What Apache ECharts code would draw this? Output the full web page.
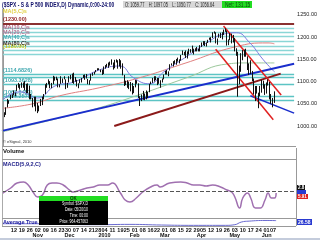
<!DOCTYPE html>
<html><head><meta charset="utf-8">
<script src="https://cdn.jsdelivr.net/npm/echarts@6/dist/echarts.min.js"></script>
<style>html,body{margin:0;padding:0;background:#fff}#c{width:320px;height:240px}</style>
</head><body><div id="c"></div>
<script>
// [day, open, high, low, close]
const oct09 = [[1,1054,1054,1029,1029],[2,1029,1031,1020,1025],[5,1026,1042,1025,1040],[6,1042,1061,1042,1054],[7,1053,1058,1050,1057],[8,1060,1070,1060,1065],[9,1065,1071,1063,1071],[12,1071,1080,1069,1076],[13,1074,1075,1067,1073],[14,1079,1093,1079,1092],[15,1090,1097,1086,1096],[16,1094,1094,1082,1087],[19,1088,1098,1086,1097],[20,1098,1098,1086,1091],[21,1091,1101,1080,1081],[22,1080,1095,1074,1092],[23,1095,1096,1074,1079],[26,1080,1091,1060,1066],[27,1067,1072,1060,1063],[28,1062,1063,1042,1042],[29,1044,1066,1044,1066],[30,1065,1066,1033,1036]];
const nov09 = [[2,1036,1052,1029,1042],[3,1040,1046,1033,1045],[4,1047,1061,1045,1046],[5,1047,1066,1047,1066],[6,1064,1072,1060,1069],[9,1072,1094,1072,1093],[10,1092,1097,1086,1093],[11,1094,1105,1094,1098],[12,1098,1101,1085,1087],[13,1088,1097,1085,1093],[16,1094,1113,1094,1109],[17,1108,1111,1102,1110],[18,1109,1111,1103,1109],[19,1107,1107,1087,1094],[20,1094,1094,1087,1091],[23,1095,1112,1095,1106],[24,1106,1107,1097,1105],[25,1106,1112,1105,1110],[27,1105,1105,1083,1091],[30,1091,1097,1086,1096]];
const dec09 = [[1,1098,1112,1098,1109],[2,1109,1115,1105,1109],[3,1110,1118,1097,1099],[4,1101,1120,1095,1105],[7,1105,1110,1100,1104],[8,1103,1104,1089,1091],[9,1092,1096,1085,1095],[10,1096,1105,1096,1102],[11,1103,1108,1098,1106],[14,1108,1115,1108,1114],[15,1114,1116,1104,1107],[16,1108,1117,1107,1109],[17,1106,1106,1094,1096],[18,1097,1103,1093,1102],[21,1102,1117,1102,1114],[22,1115,1120,1113,1118],[23,1118,1122,1116,1120],[24,1121,1126,1121,1126],[28,1127,1130,1125,1127],[29,1128,1130,1126,1126],[30,1125,1127,1121,1126],[31,1126,1127,1115,1115]];
const jan10 = [[4,1117,1134,1117,1133],[5,1133,1137,1129,1136],[6,1136,1140,1133,1137],[7,1136,1143,1131,1141],[8,1140,1145,1136,1145],[11,1146,1150,1138,1146],[12,1143,1143,1127,1136],[13,1137,1149,1130,1145],[14,1145,1150,1143,1148],[15,1147,1148,1129,1136],[19,1136,1151,1134,1150],[20,1148,1148,1129,1138],[21,1138,1141,1114,1116],[22,1115,1115,1090,1091],[25,1092,1102,1092,1096],[26,1096,1103,1086,1092],[27,1092,1100,1083,1097],[28,1097,1099,1078,1084],[29,1088,1097,1071,1074]];
const feb10 = [[1,1074,1090,1074,1090],[2,1090,1104,1087,1103],[3,1101,1103,1095,1097],[4,1096,1096,1063,1063],[5,1064,1067,1045,1066],[8,1066,1071,1056,1056],[9,1061,1079,1059,1070],[10,1069,1073,1058,1068],[11,1067,1080,1060,1078],[12,1075,1077,1063,1075],[16,1076,1095,1076,1094],[17,1096,1100,1094,1099],[18,1099,1108,1097,1106],[19,1105,1112,1100,1109],[22,1110,1112,1103,1108],[23,1107,1108,1092,1095],[24,1095,1108,1095,1105],[25,1101,1103,1086,1102],[26,1103,1107,1098,1105]];
const mar10 = [[1,1105,1116,1105,1116],[2,1117,1124,1116,1118],[3,1119,1126,1116,1119],[4,1119,1123,1112,1123],[5,1126,1139,1125,1139],[8,1139,1141,1136,1139],[9,1137,1146,1134,1141],[10,1141,1148,1140,1146],[11,1143,1151,1138,1151],[12,1152,1154,1145,1150],[15,1148,1150,1141,1150],[16,1150,1160,1147,1160],[17,1160,1170,1160,1166],[18,1166,1167,1159,1166],[19,1166,1170,1153,1160],[22,1155,1168,1152,1166],[23,1166,1174,1161,1174],[24,1172,1173,1165,1167],[25,1170,1181,1165,1165],[26,1167,1174,1161,1167],[29,1168,1175,1168,1174],[30,1174,1178,1168,1174],[31,1172,1174,1168,1169]];
const apr10 = [[1,1171,1182,1168,1178],[5,1179,1188,1178,1187],[6,1186,1191,1182,1189],[7,1189,1191,1180,1183],[8,1181,1188,1179,1187],[9,1187,1194,1187,1194],[12,1194,1199,1194,1197],[13,1196,1200,1188,1197],[14,1198,1211,1198,1211],[15,1211,1213,1208,1211],[16,1210,1211,1186,1192],[19,1192,1197,1183,1197],[20,1199,1208,1199,1207],[21,1207,1210,1198,1205],[22,1202,1211,1195,1208],[23,1207,1217,1205,1217],[26,1217,1220,1212,1213],[27,1212,1215,1181,1183],[28,1184,1195,1182,1191],[29,1193,1209,1193,1206],[30,1206,1208,1186,1187]];
const may10 = [[3,1188,1205,1188,1202],[4,1198,1198,1168,1173],[5,1169,1175,1158,1166],[6,1164,1167,1066,1128],[7,1127,1136,1094,1111],[10,1122,1164,1122,1160],[11,1157,1171,1148,1155],[12,1156,1172,1156,1171],[13,1171,1174,1156,1158],[14,1157,1157,1126,1136],[17,1137,1141,1115,1136],[18,1139,1148,1117,1121],[19,1119,1124,1101,1116],[20,1107,1107,1071,1071],[21,1068,1090,1056,1088],[24,1084,1090,1073,1074],[25,1068,1075,1040,1074],[26,1075,1090,1067,1068],[27,1075,1104,1075,1103],[28,1102,1102,1084,1089]];
const jun10 = [[1,1088,1094,1070,1070],[2,1073,1098,1073,1098],[3,1098,1105,1091,1102],[4,1099,1099,1060,1065],[7,1065,1072,1050,1050],[8,1051,1063,1042,1062],[9,1060,1078,1052,1056]];

// Moving averages: [bar index, value]
const maBlue  = [[0,1059],[11,1077],[22,1063],[33,1090],[45,1099],[61,1126],[74,1135],[83,1108],[93,1095],[102,1122],[118,1160],[130,1189],[140,1207],[148,1210],[156,1189],[165,1149],[172,1122]];
const maRed   = [[0,1040],[19,1050],[36,1068],[61,1086],[86,1108],[116,1142],[147,1178],[168,1187],[172,1185]];
const maGreen = [[0,987],[36,1018],[61,1041],[86,1070],[116,1108],[143,1140],[154,1142],[172,1142]];

// Drawn trendlines: [bar index, price]
const blueLine1 = [[-0.5,989],[184.5,1140]];
const blueLine2 = [[156.8,1068],[184.5,1029]];
const brownLine = [[70.6,1000],[176,1118]];
const redLine1  = [[139.8,1225],[176.3,1070]];
const redLine2  = [[134.8,1173],[171.3,1014]];

// Horizontal levels
const levelValues = [1230,1221,1211,1202,1191,1180,1171,1162,1116,1110,1094,1067,1057];
const levelLabels = ['(1230.00)','','','','','','(1180.00)','','(1114.6826)','','(1093.3628)','(1068.8453)','(1059.2578)'];

// MACD(5,9,2): [bar index, value]
const macd = [[0,-2],[5,3],[9,8],[13,9],[16,6],[19,-1],[22,-6],[25,-4],[28,6],[31,8],[34,8],[38,6],[42,1],[44,-1],[49,1],[53,3],[57,4],[61,6],[66,6],[69,8],[74,-2],[77,-9],[80,-11],[84,-7],[88,-1],[93,4],[97,6],[99,4],[105,8],[112,9],[116,8],[120,6],[124,6],[128,5],[132,6],[137,4],[141,1],[144,-1],[146,-6],[149,-17],[151,-7],[154,-2],[156,-7],[159,-17],[162,-17],[165,-9],[167,-2],[169,-7],[171,-7],[172,-2]];
// Average True Range
const atr = [[0,17],[20,17],[40,15],[60,14],[80,15],[100,13],[120,12],[140,12],[146,14],[150,22],[155,25],[165,27],[172,26.6]];

const weekTicks = ['2009-10-12','2009-10-19','2009-10-26','2009-11-02','2009-11-09','2009-11-16','2009-11-23','2009-11-30','2009-12-07','2009-12-14','2009-12-21','2009-12-28','2010-01-04','2010-01-11','2010-01-19','2010-01-25','2010-02-01','2010-02-08','2010-02-16','2010-02-22','2010-03-01','2010-03-08','2010-03-15','2010-03-22','2010-03-29','2010-04-05','2010-04-12','2010-04-19','2010-04-26','2010-05-03','2010-05-10','2010-05-17','2010-05-24','2010-06-01','2010-06-07'];
const monthTicks = {'2009-11-02':'Nov','2009-12-01':'Dec','2010-01-04':'2010','2010-02-01':'Feb','2010-03-01':'Mar','2010-04-01':'Apr','2010-05-03':'May','2010-06-01':'Jun'};

const months = [['2009-10',oct09],['2009-11',nov09],['2009-12',dec09],['2010-01',jan10],['2010-02',feb10],['2010-03',mar10],['2010-04',apr10],['2010-05',may10],['2010-06',jun10]];
const categories = [], ohlc = [];
months.forEach(([m, rows]) => rows.forEach(r => {
  categories.push(m + '-' + String(r[0]).padStart(2,'0'));
  ohlc.push([r[1], r[4], r[3], r[2]]);
}));
for (let i = 1; i <= 12; i++) categories.push('f' + i);
const N = categories.length;
const weekSet = new Set(weekTicks);

const F = 'Liberation Sans, Arial, sans-serif';
const chart = echarts.init(document.getElementById('c'), null, {renderer:'canvas'});

const lvlData = levelValues.map((v, i) => ({
  yAxis: v,
  lineStyle: i === 0 ? {color:'#8b3030', width:2, type:'solid'} : {color: i < 8 ? '#8ad6d6' : '#5cc4c4', width:1.3, type:'solid'},
  label: {show: !!levelLabels[i], formatter: levelLabels[i], position:'insideStartTop', distance:[1,1], fontSize:5.5, fontWeight:'bold', fontFamily:F,
    color: i === 0 ? '#8b1a1a' : (levelLabels[i] === '(1180.00)' ? '#c8c820' : '#40a8b0')}
}));

const lineS = (data, color, width, xi, yi, smooth) => ({type:'line', data, xAxisIndex:xi, yAxisIndex:yi, showSymbol:false, symbol:'none', smooth: !!smooth, lineStyle:{color, width}, silent:true, z:3});

const txt = (x, y, text, color, size, bold, sx) => ({type:'text', x, y, scaleX: sx || 1, z:100, style:{text, fill:color, font:(bold?'bold ':'') + size + 'px ' + F}});

const labelAxis = (extra) => Object.assign({type:'category', gridIndex:2, data:categories, position:'bottom', axisLine:{show:false}, axisTick:{show:false}}, extra);

chart.setOption({
  animation:false,
  backgroundColor:'#ffffff',
  grid:[
    {left:2, right:24, top:8.3, height:139.9},
    {left:2, right:24, top:160, height:58},
    {left:2, right:24, top:219.5, height:6.5}
  ],
  xAxis:[
    {type:'category', gridIndex:0, data:categories, show:false},
    {type:'value', gridIndex:0, min:-0.5, max:N-0.5, show:false},
    {type:'value', gridIndex:1, min:-0.5, max:N-0.5, show:false},
    {type:'value', gridIndex:2, min:-0.5, max:N-0.5, show:false},
    labelAxis({axisLabel:{interval:(i,v)=>weekSet.has(v), formatter:v=>v.slice(8), fontSize:5.5, margin:1, color:'#111', fontFamily:F, fontWeight:'bold'}}),
    labelAxis({offset:5.5, axisLabel:{interval:(i,v)=>v in monthTicks, formatter:v=>monthTicks[v]||'', fontSize:5.5, margin:1, color:'#111', fontFamily:F, fontWeight:'bold'}})
  ],
  yAxis:[
    {type:'value', gridIndex:0, position:'right', min:950, max:1265, interval:50, axisLine:{show:true, lineStyle:{color:'#999'}}, axisTick:{show:false}, splitLine:{show:false},
      axisLabel:{formatter:v=>(v>=1000 && v<=1250) ? v.toFixed(2) : '', fontSize:5.5, margin:3, color:'#222', fontFamily:F}},
    {type:'value', gridIndex:1, min:-27, max:31, show:false},
    {type:'value', gridIndex:2, min:10, max:30, show:false}
  ],
  series:[
    {type:'candlestick', xAxisIndex:0, yAxisIndex:0, data:ohlc, barWidth:1.2, z:4,
      itemStyle:{color:'#ffffff', color0:'#000000', borderColor:'#111', borderColor0:'#111', borderWidth:1},
      markLine:{silent:true, symbol:['none','none'], animation:false, data:lvlData, z:1}},
    lineS(maGreen,'#9cc89c',1,1,0,true),
    lineS(maRed,'#e08080',1,1,0,true),
    lineS(maBlue,'#7a7ae0',1,1,0,true),
    lineS(blueLine1,'#1a2ecc',2,1,0),
    lineS(blueLine2,'#1a2ecc',1.5,1,0),
    lineS(brownLine,'#8b1a1a',2,1,0),
    lineS(redLine1,'#e02020',1.5,1,0),
    lineS(redLine2,'#e02020',1.5,1,0),
    Object.assign(lineS(macd,'#a070b0',1.5,2,1,true), {markLine:{silent:true, symbol:['none','none'], data:[{yAxis:0}], lineStyle:{color:'#555', width:1, type:'dashed'}, label:{show:false}}}),
    lineS(atr,'#6a6ad0',1,3,2,true)
  ],
  graphic:[
    {type:'rect', shape:{x:0,y:238,width:320,height:2}, style:{fill:'#c4ccdc'}, z:0},
    {type:'line', shape:{x1:2.5,y1:9,x2:2.5,y2:226}, style:{stroke:'#aaa',lineWidth:1}, z:50},
    {type:'line', shape:{x1:296.5,y1:148,x2:296.5,y2:226}, style:{stroke:'#999',lineWidth:1}, z:50},
    {type:'line', shape:{x1:2,y1:146.5,x2:296,y2:146.5}, style:{stroke:'#999',lineWidth:1}, z:50},
    {type:'line', shape:{x1:2,y1:159.5,x2:296,y2:159.5}, style:{stroke:'#999',lineWidth:1}, z:50},
    {type:'line', shape:{x1:2,y1:218.5,x2:296,y2:218.5}, style:{stroke:'#999',lineWidth:1}, z:50},
    {type:'line', shape:{x1:2,y1:226.5,x2:296,y2:226.5}, style:{stroke:'#999',lineWidth:1}, z:50},
    {type:'rect', shape:{x:0,y:147,width:296,height:12}, style:{fill:'#ffffff'}, z:40},
    txt(2,1,'($SPX - S & P 500 INDEX,D) Dynamic,0:00-24:00','#10106a',8,true,0.62),
    {type:'rect', shape:{x:123,y:1,width:99,height:7}, style:{fill:'#d8d8d8'}, z:90},
    txt(125,1.5,'O: 1059.77    H: 1097.05    L: 1050.77    C: 1056.64','#222',7,false,0.56),
    {type:'rect', shape:{x:222,y:1,width:30,height:7}, style:{fill:'#22dd22'}, z:90},
    txt(225,1.5,'Net: 131.15','#114411',7,false,0.7),
    txt(3,8,'MA(5,C)s','#e0d040',5.5,true),
    txt(3,24,'MA(10,C)s','#b06080',5.5,true),
    txt(3,29,'MA(20,C)s','#b07090',5.5,true),
    txt(3,34,'MA(40,C)s','#40a8b0',5.5,true),
    txt(3,40,'MA(80,C)s','#303030',5.5,true),
    txt(3,140,'\u00a9 eSignal, 2010','#333',4,false),
    txt(3,148,'Volume','#111',6,true),
    txt(3,161,'MACD(5,9,2,C)','#20208a',5.5,true),
    txt(3,219.5,'Average True','#2020a0',5.5,true),
    {type:'rect', shape:{x:297,y:185,width:8,height:5}, style:{fill:'#111'}, z:90},
    txt(298,185.3,'2.8','#fff',4.5,true),
    {type:'rect', shape:{x:297,y:190,width:9,height:4}, style:{fill:'#2a3ad0'}, z:90},
    {type:'rect', shape:{x:297,y:194,width:11,height:5}, style:{fill:'#e02020'}, z:90},
    txt(298,194.3,'5.91','#fff',4.5,true),
    {type:'rect', shape:{x:297,y:219,width:15,height:6}, style:{fill:'#2a3ad0'}, z:90},
    txt(298,219.7,'26.58','#fff',5,true),
    {type:'rect', shape:{x:39,y:196,width:69,height:29}, style:{fill:'#000'}, z:95},
    {type:'rect', shape:{x:39,y:196,width:69,height:5}, style:{fill:'#22dd22'}, z:96},
    txt(70,196.4,'OK','#0a3a0a',4.5,true),
    {type:'text', x:88, y:201, z:97, scaleX:0.7, style:{text:'Symbol: $SPX,D', fill:'#fff', font:'5px '+F, align:'right'}},
    {type:'text', x:88, y:207, z:97, scaleX:0.7, style:{text:'Date: 05/20/10', fill:'#fff', font:'5px '+F, align:'right'}},
    {type:'text', x:88, y:213, z:97, scaleX:0.7, style:{text:'Time: 00:00', fill:'#fff', font:'5px '+F, align:'right'}},
    {type:'text', x:88, y:219, z:97, scaleX:0.7, style:{text:'Price: 964.457063', fill:'#fff', font:'5px '+F, align:'right'}}
  ]
});
</script></body></html>
